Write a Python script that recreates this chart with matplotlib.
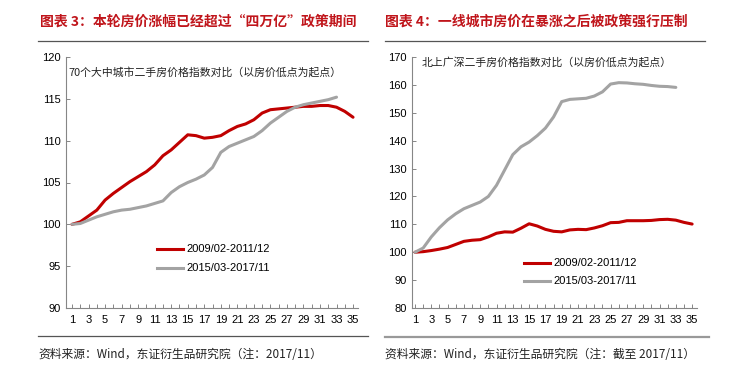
import matplotlib
matplotlib.use("Agg")
import matplotlib.pyplot as plt
from matplotlib.lines import Line2D

plt.rcParams['font.family'] = ['Liberation Sans', 'Noto Sans CJK SC', 'DejaVu Sans']

# ---------------- data ----------------
left_red = [100, 100.3, 101.0, 101.7, 102.9, 103.7, 104.4, 105.1, 105.7, 106.3,
            107.1, 108.2, 108.9, 109.8, 110.7, 110.6, 110.3, 110.4, 110.6, 111.2,
            111.7, 112.0, 112.5, 113.3, 113.7, 113.8, 113.9, 114.0, 114.1, 114.1,
            114.2, 114.2, 114.0, 113.5, 112.8]
left_gray = [100, 100.1, 100.5, 100.9, 101.2, 101.5, 101.7, 101.8, 102.0, 102.2,
             102.5, 102.8, 103.8, 104.5, 105.0, 105.4, 105.9, 106.8, 108.6, 109.3,
             109.7, 110.1, 110.5, 111.2, 112.1, 112.8, 113.5, 114.0, 114.3, 114.5,
             114.7, 114.9, 115.2]
right_red = [100, 100.2, 100.6, 101.1, 101.7, 102.8, 103.9, 104.3, 104.5, 105.5,
             106.8, 107.3, 107.2, 108.6, 110.2, 109.4, 108.2, 107.5, 107.3, 108.0,
             108.2, 108.1, 108.7, 109.5, 110.6, 110.7, 111.3, 111.3, 111.3, 111.4,
             111.7, 111.8, 111.5, 110.7, 110.1]
right_gray = [100, 101.5, 105.5, 108.8, 111.6, 113.8, 115.6, 116.8, 118.0, 120.0,
              124.0, 129.5, 135.0, 137.8, 139.5, 141.8, 144.5, 148.5, 154.0, 154.8,
              155.0, 155.2, 156.0, 157.5, 160.3, 160.8, 160.7, 160.4, 160.2, 159.8,
              159.5, 159.4, 159.1]
series_names = ['2009/02-2011/12', '2015/03-2017/11']
left_yticks = [90, 95, 100, 105, 110, 115, 120]
right_yticks = [80, 90, 100, 110, 120, 130, 140, 150, 160, 170]
xtick_labels = list(range(1, 36, 2))

titles = ['图表 3：本轮房价涨幅已经超过“四万亿”政策期间', '图表 4：一线城市房价在暴涨之后被政策强行压制']
notes = ['70个大中城市二手房价格指数对比（以房价低点为起点）', '北上广深二手房价格指数对比（以房价低点为起点）']
sources = ['资料来源：Wind，东证衍生品研究院（注：2017/11）', '资料来源：Wind，东证衍生品研究院（注：截至 2017/11）']

RED = '#C00000'
GRAY = '#A3A3A3'
AX = '#868686'
TITLE_RED = '#C0151B'
CJK = ['Noto Sans CJK SC', 'DejaVu Sans']

W, H = 750, 381
fig = plt.figure(figsize=(W / 100, H / 100), dpi=100)


def fx(px):
    return px / W


def fy(py):
    return 1 - py / H


def make_axes(x0, x1, y0, y1):
    return fig.add_axes([fx(x0), fy(y1), fx(x1 - x0), (y1 - y0) / H])


def style(ax, ylim, yticks, xlim):
    ax.set_xlim(*xlim)
    ax.set_ylim(*ylim)
    ax.set_yticks(yticks)
    ax.set_xticks(range(1, 36), minor=True)
    ax.set_xticks(xtick_labels)
    ax.set_xticklabels([str(v) for v in xtick_labels])
    for s in ['top', 'right']:
        ax.spines[s].set_visible(False)
    for s in ['left', 'bottom']:
        ax.spines[s].set_color(AX)
        ax.spines[s].set_linewidth(0.8)
    ax.tick_params(axis='both', which='both', direction='in', color=AX,
                   labelsize=8, labelcolor='#000000', length=3, width=0.7)
    ax.tick_params(axis='x', pad=5)
    ax.tick_params(axis='y', pad=4)
    ax.set_facecolor('none')


LW = 2.2

# left chart
axL = make_axes(66, 358, 57, 308)
axL.plot(range(1, len(left_red) + 1), left_red, color=RED, lw=LW, solid_capstyle='round', solid_joinstyle='round')
axL.plot(range(1, len(left_gray) + 1), left_gray, color=GRAY, lw=LW, solid_capstyle='round', solid_joinstyle='round')
style(axL, (90, 120), left_yticks, (0.27, 35.6))
axL.text(fx(68), fy(72), notes[0], transform=fig.transFigure, fontsize=7.8,
         family=CJK, va='center', ha='left', color='#222222')

# right chart
axR = make_axes(412, 697, 57, 308)
axR.plot(range(1, len(right_red) + 1), right_red, color=RED, lw=LW, solid_capstyle='round', solid_joinstyle='round')
axR.plot(range(1, len(right_gray) + 1), right_gray, color=GRAY, lw=LW, solid_capstyle='round', solid_joinstyle='round')
style(axR, (80, 170), right_yticks, (0.63, 35.6))
axR.text(fx(422), fy(62), notes[1], transform=fig.transFigure, fontsize=7.8,
         family=CJK, va='center', ha='left', color='#222222')


# legends
def legend(x0, y0, y1):
    for yy, col, name in [(y0, RED, series_names[0]), (y1, GRAY, series_names[1])]:
        fig.add_artist(Line2D([fx(x0), fx(x0 + 26)], [fy(yy), fy(yy)], color=col, lw=LW,
                              transform=fig.transFigure))
        fig.text(fx(x0 + 29), fy(yy), name, fontsize=8, va='center', ha='left')


legend(157, 249, 268)
legend(524, 263, 281)

# titles and rules
fig.text(fx(40), fy(22), titles[0], fontsize=10, color=TITLE_RED, fontweight='bold',
         family=CJK, va='center', ha='left')
fig.text(fx(385), fy(22), titles[1], fontsize=10, color=TITLE_RED, fontweight='bold',
         family=CJK, va='center', ha='left')
fig.add_artist(Line2D([fx(38), fx(368)], [fy(41), fy(41)], color='#555555', lw=0.9,
                      transform=fig.transFigure))
fig.add_artist(Line2D([fx(385), fx(705)], [fy(41), fy(41)], color='#555555', lw=0.9,
                      transform=fig.transFigure))
fig.add_artist(Line2D([fx(38), fx(368)], [fy(336), fy(336)], color='#555555', lw=0.9,
                      transform=fig.transFigure))
fig.add_artist(Line2D([fx(385), fx(709)], [fy(337), fy(337)], color='#999999', lw=1.6,
                      transform=fig.transFigure))

fig.text(fx(38), fy(354), sources[0], fontsize=8.5, family=CJK,
         va='center', ha='left', color='#222222')
fig.text(fx(385), fy(354), sources[1], fontsize=8.5, family=CJK,
         va='center', ha='left', color='#222222')

fig.savefig('out.png', dpi=100, facecolor='white')
